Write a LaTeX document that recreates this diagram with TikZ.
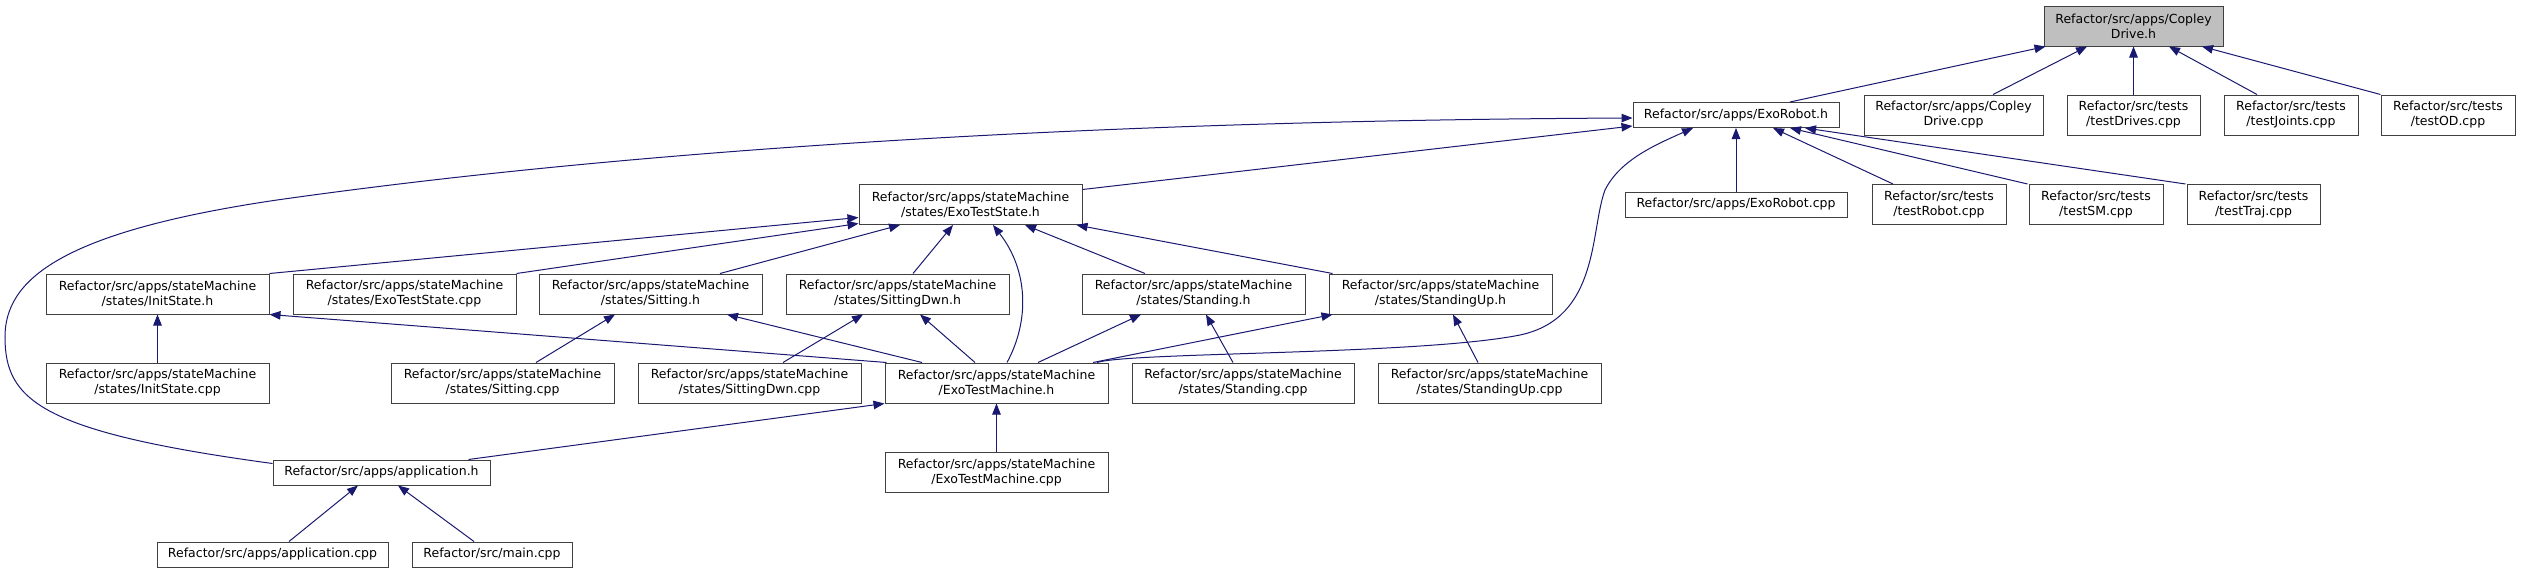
\documentclass[tikz,border=0pt]{standalone}
\usepackage{fontspec}
\setmainfont{DejaVu Sans}
\usetikzlibrary{arrows.meta,calc}
\definecolor{edgec}{HTML}{191970}
\definecolor{boxc}{HTML}{404040}
\definecolor{rootfill}{HTML}{BFBFBF}
\begin{document}
\begin{tikzpicture}[x=1pt,y=-1pt,
  box/.style={draw=boxc, line width=1pt, fill=white, inner sep=0pt, align=center,
              font=\fontsize{12.5}{15}\selectfont, minimum height=40pt},
  box1/.style={box, minimum height=25pt},
  edge/.style={draw=edgec, line width=1pt, -{Triangle[length=11pt,width=8.5pt]}}]
\useasboundingbox (0,0) rectangle (2521,573);
% row 1
\node[box, fill=rootfill, minimum width=179pt] (cdh) at (2133.5,26) {Refactor/src/apps/Copley\\Drive.h};
% row 2
\node[box1, minimum width=206pt] (erh) at (1736,115) {Refactor/src/apps/ExoRobot.h};
\node[box, minimum width=179pt] (cdcpp) at (1953.5,115) {Refactor/src/apps/Copley\\Drive.cpp};
\node[box, minimum width=133pt] (tdr) at (2133.5,115) {Refactor/src/tests\\/testDrives.cpp};
\node[box, minimum width=134pt] (tjo) at (2291,115) {Refactor/src/tests\\/testJoints.cpp};
\node[box, minimum width=134pt] (tod) at (2448,115) {Refactor/src/tests\\/testOD.cpp};
% row 3
\node[box, minimum width=223pt] (etsh) at (970.5,204.5) {Refactor/src/apps/stateMachine\\/states/ExoTestState.h};
\node[box1, minimum width=222pt] (ercpp) at (1736,204.5) {Refactor/src/apps/ExoRobot.cpp};
\node[box, minimum width=134pt] (trob) at (1939,204.5) {Refactor/src/tests\\/testRobot.cpp};
\node[box, minimum width=134pt] (tsm) at (2096,204.5) {Refactor/src/tests\\/testSM.cpp};
\node[box, minimum width=133pt] (ttr) at (2253.5,204.5) {Refactor/src/tests\\/testTraj.cpp};
% row 4
\node[box, minimum width=223pt] (inith) at (157.5,294) {Refactor/src/apps/stateMachine\\/states/InitState.h};
\node[box, minimum width=223pt] (etscpp) at (404.5,294) {Refactor/src/apps/stateMachine\\/states/ExoTestState.cpp};
\node[box, minimum width=223pt] (sith) at (650.5,294) {Refactor/src/apps/stateMachine\\/states/Sitting.h};
\node[box, minimum width=223pt] (sdh) at (897.5,294) {Refactor/src/apps/stateMachine\\/states/SittingDwn.h};
\node[box, minimum width=223pt] (sth) at (1193.5,294) {Refactor/src/apps/stateMachine\\/states/Standing.h};
\node[box, minimum width=223pt] (suh) at (1440.5,294) {Refactor/src/apps/stateMachine\\/states/StandingUp.h};
% row 5
\node[box, minimum width=223pt] (initcpp) at (157.5,383) {Refactor/src/apps/stateMachine\\/states/InitState.cpp};
\node[box, minimum width=223pt] (sitcpp) at (502.5,383) {Refactor/src/apps/stateMachine\\/states/Sitting.cpp};
\node[box, minimum width=223pt] (sdcpp) at (749.5,383) {Refactor/src/apps/stateMachine\\/states/SittingDwn.cpp};
\node[box, minimum width=223pt] (etmh) at (996.5,383) {Refactor/src/apps/stateMachine\\/ExoTestMachine.h};
\node[box, minimum width=222pt] (stcpp) at (1243,383) {Refactor/src/apps/stateMachine\\/states/Standing.cpp};
\node[box, minimum width=223pt] (sucpp) at (1489.5,383) {Refactor/src/apps/stateMachine\\/states/StandingUp.cpp};
% row 6
\node[box1, minimum width=217pt] (apph) at (381.5,472.5) {Refactor/src/apps/application.h};
\node[box, minimum width=223pt] (etmcpp) at (996.5,472.5) {Refactor/src/apps/stateMachine\\/ExoTestMachine.cpp};
% row 7
\node[box1, minimum width=231pt] (appcpp) at (272.5,554.5) {Refactor/src/apps/application.cpp};
\node[box1, minimum width=160pt] (maincpp) at (492,554.5) {Refactor/src/main.cpp};

% edges into CopleyDrive.h
\draw[edge] ($(erh.north)+(54,0)$) -- ($(cdh.south west)+(2,0)$);
\draw[edge] ($(cdcpp.north)+(39.5,0)$) -- ($(cdh.south)+(-46.5,0)$);
\draw[edge] (tdr.north) -- (cdh.south);
\draw[edge] ($(tjo.north)+(-34,0)$) -- ($(cdh.south)+(35.5,0)$);
\draw[edge] (tod.north west) -- ($(cdh.south)+(68.5,0)$);
% edges into ExoRobot.h
\draw[edge] ($(etsh.north east)+(0,5.5)$) -- ($(erh.south west)+(0,-2)$);
\draw[edge] (ercpp.north) -- (erh.south);
\draw[edge] ($(trob.north)+(-46,0)$) -- ($(erh.south)+(37,0)$);
\draw[edge] ($(tsm.north west)+(-1,0)$) -- ($(erh.south)+(54,0)$);
\draw[edge] ($(ttr.north west)+(-1,0)$) -- ($(erh.south)+(69,0)$);
\draw[edge] ($(etmh.north)+(100.5,0)$) .. controls (1130,352) and (1420,355) .. (1520,335)
   .. controls (1600,318) and (1590,230) .. (1605,190)
   .. controls (1620,160) and (1655,145) .. ($(erh.south)+(-43,0)$);
\draw[edge] ($(apph.north west)+(0,4)$) .. controls (40,432) and (5,400) .. (5,337)
   .. controls (5,280) and (60,232) .. (277,200)
   .. controls (700,140) and (1200,120) .. ($(erh.west)+(0,3)$);
% edges into ExoTestState.h
\draw[edge] (inith.north east) -- ($(etsh.south west)+(0,-7.5)$);
\draw[edge] (etscpp.north east) -- ($(etsh.south west)+(0,-1.5)$);
\draw[edge] ($(sith.north)+(69.5,0)$) -- ($(etsh.south)+(-70.5,0)$);
\draw[edge] ($(sdh.north)+(15.5,0)$) -- ($(etsh.south)+(-17.5,0)$);
\draw[edge] ($(etmh.north)+(10.5,0)$) .. controls (1030,320) and (1028,270) .. ($(etsh.south)+(22.5,0)$);
\draw[edge] ($(sth.north)+(-48.5,0)$) -- ($(etsh.south)+(54.5,0)$);
\draw[edge] ($(suh.north west)+(4,0)$) -- ($(etsh.south east)+(-6,0)$);
% edges from ExoTestMachine.h to states
\draw[edge] ($(etmh.north west)+(2,0)$) -- (inith.south east);
\draw[edge] ($(etmh.north)+(-74.5,0)$) -- ($(sith.south)+(76.5,0)$);
\draw[edge] ($(etmh.north)+(-21.5,0)$) -- ($(sdh.south)+(22.5,0)$);
\draw[edge] ($(etmh.north)+(41.5,0)$) -- ($(sth.south)+(-52.5,0)$);
\draw[edge] ($(etmh.north)+(96.5,0)$) -- ($(suh.south west)+(4,0)$);
% cpp to states
\draw[edge] (initcpp.north) -- (inith.south);
\draw[edge] ($(sitcpp.north)+(33.5,0)$) -- ($(sith.south)+(-35.5,0)$);
\draw[edge] ($(sdcpp.north)+(33.5,0)$) -- ($(sdh.south)+(-34.5,0)$);
\draw[edge] ($(stcpp.north)+(-10,0)$) -- ($(sth.south)+(12.5,0)$);
\draw[edge] ($(sucpp.north)+(-11.5,0)$) -- ($(suh.south)+(12.5,0)$);
% into ExoTestMachine.h
\draw[edge] ($(apph.north east)+(-22,0)$) -- (etmh.south west);
\draw[edge] (etmcpp.north) -- (etmh.south);
% into application.h
\draw[edge] ($(appcpp.north)+(16.5,0)$) -- ($(apph.south)+(-23.5,0)$);
\draw[edge] ($(maincpp.north)+(-18,0)$) -- ($(apph.south)+(16.5,0)$);
\end{tikzpicture}
\end{document}
